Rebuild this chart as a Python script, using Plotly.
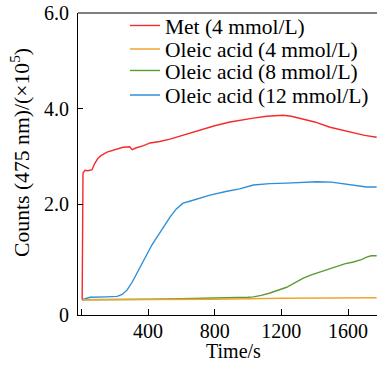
import plotly.graph_objects as go

# ---- data ----
t_met = [5, 6, 10, 22, 40, 64, 80, 100, 120, 154, 200, 250, 290, 305, 330, 370, 412, 470,
         532, 600, 670, 730, 800, 892, 952, 1032, 1112, 1160, 1210, 1260, 1330, 1400, 1492,
         1560, 1630, 1700, 1772]
v_met = [0.0, 2.55, 2.65, 2.71, 2.70, 2.72, 2.85, 2.96, 3.02, 3.09, 3.14, 3.19, 3.20, 3.14,
         3.18, 3.22, 3.28, 3.31, 3.36, 3.43, 3.51, 3.57, 3.64, 3.72, 3.76, 3.80, 3.84, 3.85,
         3.86, 3.84, 3.78, 3.72, 3.61, 3.55, 3.49, 3.44, 3.40]

t_ole4 = [5, 400, 800, 1200, 1600, 1772]
v_ole4 = [0.0, 0.0, 0.01, 0.03, 0.04, 0.04]

t_ole8 = [5, 200, 400, 600, 800, 900, 1000, 1032, 1080, 1132, 1180, 1232, 1280, 1332, 1380,
          1432, 1480, 1532, 1580, 1632, 1680, 1712, 1740, 1772]
v_ole8 = [0.0, 0.0, 0.01, 0.02, 0.03, 0.04, 0.05, 0.06, 0.09, 0.14, 0.19, 0.26, 0.35, 0.45,
          0.52, 0.58, 0.64, 0.70, 0.75, 0.79, 0.84, 0.89, 0.92, 0.92]

t_ole12 = [5, 52, 150, 215, 245, 274, 304, 334, 364, 394, 424, 454, 494, 532, 570, 610, 650,
           694, 772, 874, 950, 1032, 1130, 1232, 1320, 1412, 1500, 1592, 1660, 1712, 1772]
v_ole12 = [0.0, 0.05, 0.06, 0.07, 0.11, 0.20, 0.36, 0.56, 0.77, 0.97, 1.15, 1.31, 1.53, 1.73,
           1.90, 2.02, 2.06, 2.11, 2.19, 2.27, 2.32, 2.40, 2.43, 2.44, 2.46, 2.47, 2.46, 2.42,
           2.38, 2.36, 2.36]

names = ["Met (4 mmol/L)", "Oleic acid (4 mmol/L)", "Oleic acid (8 mmol/L)", "Oleic acid (12 mmol/L)"]
colors = ["#f52a2a", "#eea530", "#5b9b32", "#2f8fd8"]

x_tickvals = [400, 800, 1200, 1600]
x_ticktext = ["400", "800", "1200", "1600"]
x_minor_tickvals = [0]
y_tickvals = [-0.32, 2, 4, 6]
y_ticktext = ["0", "2.0", "4.0", "6.0"]

FONT = "Liberation Serif, Times New Roman, serif"
W, H = 377, 366
L, R, T, B = 78, 0, 13, 51
PW, PH = W - L - R, H - T - B


def px_x(x):
    return (x - L) / PW


def px_y(y):
    return (H - B - y) / PH


fig = go.Figure()
series = {0: (t_met, v_met), 1: (t_ole4, v_ole4), 2: (t_ole8, v_ole8), 3: (t_ole12, v_ole12)}
legend_ids = ["legend", "legend2", "legend3", "legend4"]
for i in [3, 2, 1, 0]:
    tx, vy = series[i]
    fig.add_trace(go.Scatter(x=tx, y=vy, mode="lines", name=names[i],
                             line=dict(color=colors[i], width=1.4),
                             legend=legend_ids[i]))

legend_rows = [px_y(25.5), px_y(49), px_y(70.5), px_y(95)]
leg_common = dict(x=0.157, xanchor="left", yanchor="middle", bgcolor="rgba(0,0,0,0)",
                  font=dict(size=21.5, family=FONT, color="black"), itemwidth=30)

fig.update_layout(
    width=W, height=H,
    margin=dict(l=L, r=R, t=T, b=B),
    paper_bgcolor="white", plot_bgcolor="white",
    font=dict(family=FONT, size=20, color="black"),
    showlegend=True,
    legend=dict(y=legend_rows[0], **leg_common),
    legend2=dict(y=legend_rows[1], **leg_common),
    legend3=dict(y=legend_rows[2], **leg_common),
    legend4=dict(y=legend_rows[3], **leg_common),
    xaxis=dict(range=[-20, 1774], tickvals=x_tickvals, ticktext=x_ticktext,
               ticks="inside", ticklen=6, tickcolor="black", showline=True,
               linecolor="black", linewidth=1, showgrid=False,
               minor=dict(tickvals=x_minor_tickvals, ticks="inside", ticklen=6,
                          tickcolor="black", showgrid=False),
               zeroline=False, tickfont=dict(size=20, family=FONT), ticklabelstandoff=-2),
    yaxis=dict(range=[-0.32, 6.0], tickvals=y_tickvals, ticktext=y_ticktext,
               ticks="inside", ticklen=5, tickcolor="black", showline=True,
               linecolor="black", linewidth=1, showgrid=False, zeroline=False,
               tickfont=dict(size=20, family=FONT), ticklabelstandoff=4),
    shapes=[dict(type="line", xref="paper", yref="paper", x0=0, x1=1, y0=1, y1=1,
                 line=dict(color="black", width=1))],
    annotations=[
        dict(text="Time/s", xref="paper", yref="paper", x=px_x(233), y=px_y(351),
             xanchor="center", yanchor="middle", showarrow=False,
             font=dict(size=20, family=FONT)),
        dict(text="Counts (475 nm)/(×10<sup>5</sup>)", xref="paper", yref="paper",
             x=px_x(20), y=px_y(153), xanchor="center", yanchor="middle",
             textangle=-90, showarrow=False, font=dict(size=21.7, family=FONT)),
    ],
)

fig.write_html("out.html", config={"displayModeBar": False},
               post_script="document.body.style.margin='0';")
